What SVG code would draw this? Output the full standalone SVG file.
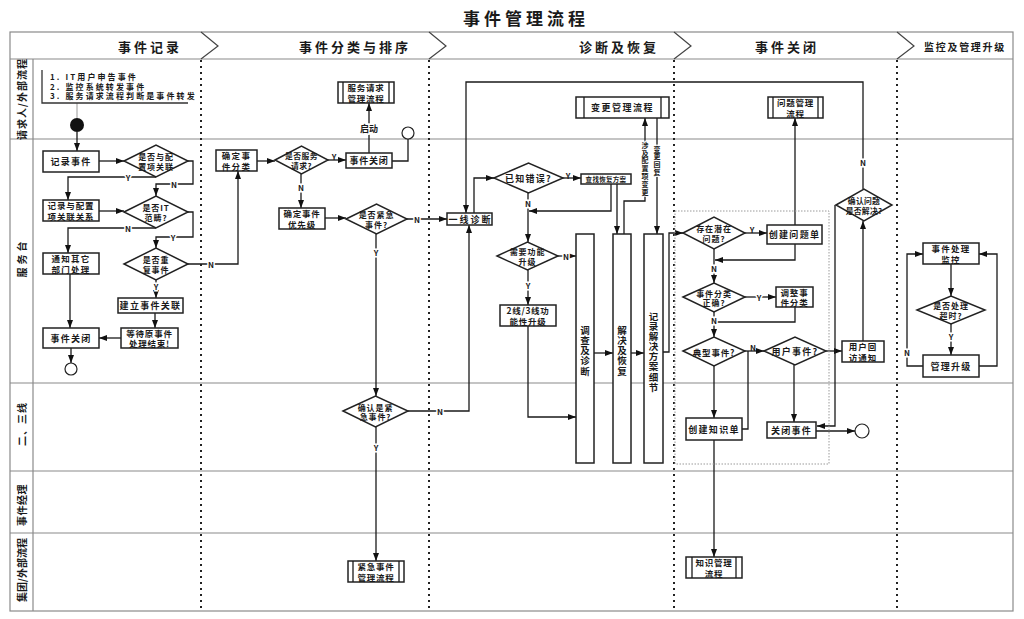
<svg xmlns="http://www.w3.org/2000/svg" width="1024" height="619" viewBox="0 0 1024 619">
<style>
text{font-family:"Noto Sans CJK SC","Liberation Sans",sans-serif;font-weight:bold;fill:#1a1a1a}
.t{font-size:8.5px;text-anchor:middle;dominant-baseline:central;letter-spacing:0.8px}
.td{font-size:8px;text-anchor:middle;dominant-baseline:central;letter-spacing:0.9px}
.t2{font-size:8.5px;text-anchor:middle;dominant-baseline:central;letter-spacing:1.3px}
.t9{font-size:9px;text-anchor:middle;dominant-baseline:central;letter-spacing:1.3px}
.lbl{font-size:8px;text-anchor:middle;dominant-baseline:central;stroke:#fff;stroke-width:3px;paint-order:stroke}
.vt{font-size:9.5px;text-anchor:middle;writing-mode:vertical-rl;letter-spacing:0.6px}
.vl{font-size:7px;text-anchor:middle;writing-mode:vertical-rl;letter-spacing:0.8px;stroke:#fff;stroke-width:2px;paint-order:stroke}
.box{fill:#fff;stroke:#222;stroke-width:1.5}
.ln{fill:none;stroke:#1a1a1a;stroke-width:1.3}
.ar{fill:none;stroke:#1a1a1a;stroke-width:1.3;marker-end:url(#ah)}
.frame{fill:none;stroke:#8a8a8a;stroke-width:1.2}
.sep{stroke:#222;stroke-width:2;stroke-dasharray:2 4}
.hd{font-size:13px;text-anchor:middle;dominant-baseline:central;letter-spacing:3px}
.lane{font-size:10px;text-anchor:middle;dominant-baseline:central}
</style>
<defs>
<marker id="ah" viewBox="0 0 8 6" refX="8" refY="3" markerWidth="8" markerHeight="6" markerUnits="userSpaceOnUse" orient="auto"><path d="M0,0 L8,3 L0,6 z" fill="#111"/></marker>
</defs>
<rect width="1024" height="619" fill="#fff"/>
<text x="526" y="17" style="font-size:17px;text-anchor:middle;dominant-baseline:central;letter-spacing:4px">事件管理流程</text>

<g id="frame">
<rect class="frame" x="10" y="32" width="1003" height="579"/>
<line class="frame" x1="10" y1="59" x2="1013" y2="59"/>
<line class="frame" x1="10" y1="139" x2="1013" y2="139"/>
<line class="frame" x1="10" y1="383" x2="1013" y2="383"/>
<line class="frame" x1="10" y1="471" x2="1013" y2="471"/>
<line class="frame" x1="10" y1="533" x2="1013" y2="533"/>
<line class="frame" x1="33" y1="59" x2="33" y2="611"/>
<polyline class="frame" points="201,32 218,46 201,59" style="stroke:#444"/>
<polyline class="frame" points="429,32 446,46 429,59" style="stroke:#444"/>
<polyline class="frame" points="674,32 691,46 674,59" style="stroke:#444"/>
<polyline class="frame" points="897,32 914,46 897,59" style="stroke:#444"/>
<line class="sep" x1="201" y1="60" x2="201" y2="611"/>
<line class="sep" x1="429" y1="60" x2="429" y2="611"/>
<line class="sep" x1="674" y1="60" x2="674" y2="611"/>
<line class="sep" x1="897" y1="60" x2="897" y2="611"/>
<text class="hd" x="150" y="46">事件记录</text>
<text class="hd" x="355" y="46">事件分类与排序</text>
<text class="hd" x="619" y="46">诊断及恢复</text>
<text class="hd" x="787" y="46">事件关闭</text>
<text class="hd" x="965" y="46" style="font-size:10px;letter-spacing:1.7px">监控及管理升级</text>
<text class="lane" transform="translate(21,99) rotate(-90)" style="letter-spacing:1px">请求人/外部流程</text>
<text class="lane" transform="translate(21,258) rotate(-90)" style="letter-spacing:3px">服务台</text>
<text class="lane" transform="translate(21,424) rotate(-90)" style="letter-spacing:1px">二、三线</text>
<text class="lane" transform="translate(21,505) rotate(-90)" style="letter-spacing:0.5px">事件经理</text>
<text class="lane" transform="translate(21,570) rotate(-90)">集团/外部流程</text>
</g>

<g id="connectors">
<path d="M77,103 V118" style="fill:none;stroke:#999;stroke-width:1"/>
<path class="ar" d="M77,132 V151"/>
<path class="ar" d="M99,161 H124"/>
<path class="ar" d="M156,177 H68 V200"/>
<path class="ar" d="M188,161 H193 V184 H156 V196"/>
<path class="ar" d="M99,211 H124"/>
<path class="ar" d="M156,228 H68 V253"/>
<path class="ar" d="M188,212 H193 V237 H156 V248"/>
<path class="ar" d="M188,264 H238 V171"/>
<path class="ar" d="M156,280 V298"/>
<path class="ar" d="M155,313 V328"/>
<path class="ar" d="M121,338 H99"/>
<path class="ar" d="M70,274 V328"/>
<path class="ar" d="M71,348 V363"/>
<path class="ar" d="M257,161 H275"/>
<path class="ar" d="M328,160 H346"/>
<path class="ar" d="M369,153 V103"/>
<path class="ln" d="M392,161 H408 V139"/>
<path class="ar" d="M301,174 V208"/>
<path class="ar" d="M325,218 H346"/>
<path class="ar" d="M407,219 H447"/>
<path class="ar" d="M376,234 V396"/>
<path class="ar" d="M408,411 H469 V225"/>
<path class="ar" d="M376,427 V561"/>
<path class="ar" d="M863,189 V82 H466 V213"/>
<path class="ar" d="M474,213 V178 H494"/>
<path class="ar" d="M563,178 H581"/>
<path class="ar" d="M528,193 V242"/>
<path class="ar" d="M611,184 V211 H529"/>
<path class="ar" d="M617,184 V234"/>
<path class="ar" d="M624,234 V201 H645 V118"/>
<path class="ar" d="M657,118 V234"/>
<path class="ar" d="M558,256 H576"/>
<path class="ar" d="M528,270 V305"/>
<path class="ar" d="M528,326 V417 H576"/>
<path class="ar" d="M594,353 H613"/>
<path class="ar" d="M631,353 H644"/>
<path class="ar" d="M663,352 H669 V233 H683"/>
<path class="ar" d="M745,233 H767"/>
<path class="ar" d="M795,225 V118"/>
<path class="ar" d="M795,244 V260 H715"/>
<path class="ar" d="M714,249 V283"/>
<path class="ar" d="M745,297 H776"/>
<path class="ln" d="M795,307 V322 H714"/>
<path class="ar" d="M714,312 V337"/>
<path class="ar" d="M745,351 H764"/>
<path class="ln" d="M742,429 H748 V351"/>
<path class="ar" d="M826,351 H842"/>
<path class="ar" d="M863,341 V221"/>
<path class="ar" d="M835,205 V426 H817"/>
<path class="ar" d="M714,366 V418"/>
<path class="ar" d="M794,365 V422"/>
<path class="ar" d="M816,431 H855"/>
<path class="ar" d="M714,440 V557"/>
<path class="ar" d="M951,264 V296"/>
<path class="ar" d="M951,324 V355"/>
<path class="ar" d="M923,366 H907 V254 H923"/>
<path class="ar" d="M979,366 H997 V254 H979"/>
<text class="lbl" x="128" y="177">Y</text>
<text class="lbl" x="174" y="184">N</text>
<text class="lbl" x="128" y="228">N</text>
<text class="lbl" x="173" y="237">Y</text>
<text class="lbl" x="211" y="264">N</text>
<text class="lbl" x="156" y="286">Y</text>
<text class="lbl" x="334" y="156" style="stroke-width:0">Y</text>
<text class="lbl" x="369" y="128" style="font-size:9px">启动</text>
<text class="lbl" x="301" y="187">N</text>
<text class="lbl" x="417" y="219">N</text>
<text class="lbl" x="376" y="252">Y</text>
<text class="lbl" x="440" y="411">N</text>
<text class="lbl" x="376" y="447">Y</text>
<text class="lbl" x="863" y="162">N</text>
<text class="lbl" x="568" y="175" style="stroke-width:0">Y</text>
<text class="lbl" x="528" y="203">N</text>
<text class="lbl" x="566" y="256">N</text>
<text class="lbl" x="528" y="285">Y</text>
<text class="lbl" x="752" y="229" style="stroke-width:0">Y</text>
<text class="lbl" x="714" y="268">N</text>
<text class="lbl" x="759" y="297">Y</text>
<text class="lbl" x="714" y="320">N</text>
<text class="lbl" x="753" y="347" style="stroke-width:0">N</text>
<text class="lbl" x="951" y="336">Y</text>
<text class="lbl" x="907" y="352">N</text>
<text class="vl" x="645" y="169">涉及配置项变更</text>
<text class="vl" x="657" y="161">变更回复</text>
</g>

<g id="n-note">
<path d="M42,70 V103 H188" style="fill:none;stroke:#333;stroke-width:1.3"/>
<text style="font-size:8px;letter-spacing:2.1px"><tspan x="50" y="80">1. IT用户申告事件</tspan><tspan x="50" y="89.7">2. 监控系统转发事件</tspan><tspan x="50" y="99.4">3. 服务请求流程判断是事件转发</tspan></text>
</g>
<g id="n-start"><circle cx="77" cy="125" r="7" fill="#111"/></g>

<g id="n-jlsj"><rect class="box" x="43" y="151" width="56" height="21"/><text class="t9" x="71" y="161.5">记录事件</text></g>
<g id="n-d1"><polygon class="box" points="124,161 156,145 188,161 156,177"/><text class="td"><tspan x="156" y="156.1">是否与配</tspan><tspan x="156" y="165.9">置项关联</tspan></text></g>
<g id="n-jlpz"><rect class="box" x="43" y="200" width="56" height="21"/><text class="t2" style="letter-spacing:0.9px"><tspan x="71" y="205.25">记录与配置</tspan><tspan x="71" y="215.75">项关联关系</tspan></text></g>
<g id="n-d2"><polygon class="box" points="124,212 156,196 188,212 156,228"/><text class="td"><tspan x="156" y="207.1">是否IT</tspan><tspan x="156" y="216.9">范畴?</tspan></text></g>
<g id="n-tz"><rect class="box" x="43" y="253" width="56" height="21"/><text class="t2"><tspan x="71" y="258.25">通知其它</tspan><tspan x="71" y="268.75">部门处理</tspan></text></g>
<g id="n-d3"><polygon class="box" points="124,264 156,248 188,264 156,280"/><text class="td"><tspan x="156" y="259.1">是否重</tspan><tspan x="156" y="268.9">复事件</tspan></text></g>
<g id="n-jlgl"><rect class="box" x="118" y="298" width="65" height="15"/><text class="t9" x="150.5" y="305.5">建立事件关联</text></g>
<g id="n-dd"><rect class="box" x="121" y="328" width="57" height="20"/><text class="t2" style="letter-spacing:0.8px"><tspan x="149.5" y="332.75">等待原事件</tspan><tspan x="149.5" y="343.25">处理结束!</tspan></text></g>
<g id="n-gb1"><rect class="box" x="43" y="328" width="56" height="20"/><text class="t9" x="71" y="338">事件关闭</text></g>
<g id="n-end1"><circle cx="71" cy="369" r="6" fill="#fff" stroke="#222" stroke-width="1.2"/></g>

<g id="n-qdfl"><rect class="box" x="216" y="150" width="41" height="21"/><text class="t2"><tspan x="236.5" y="155.25">确定事</tspan><tspan x="236.5" y="165.75">件分类</tspan></text></g>
<g id="n-d4"><polygon class="box" points="275,160 301.5,146 328,160 301.5,174"/><text class="td" style="font-size:7.8px;letter-spacing:0.5px"><tspan x="301.5" y="155.1">是否服务</tspan><tspan x="301.5" y="164.9">请求?</tspan></text></g>
<g id="n-gb2"><rect class="box" x="346" y="153" width="46" height="15"/><text class="t9" style="letter-spacing:0.8px" x="369" y="160.5">事件关闭</text></g>
<g id="n-fwqq"><rect class="box" x="338" y="82" width="56" height="21"/><line class="ln" x1="343" y1="82" x2="343" y2="103"/><line class="ln" x1="389" y1="82" x2="389" y2="103"/><text class="t2" style="letter-spacing:0.8px"><tspan x="366" y="87.25">服务请求</tspan><tspan x="366" y="97.75">管理流程</tspan></text></g>
<g id="n-end2"><circle cx="408" cy="133" r="6" fill="#fff" stroke="#222" stroke-width="1.2"/></g>
<g id="n-yxj"><rect class="box" x="279" y="208" width="46" height="21"/><text class="t2" style="letter-spacing:0.8px"><tspan x="302" y="213.25">确定事件</tspan><tspan x="302" y="223.75">优先级</tspan></text></g>
<g id="n-d5"><polygon class="box" points="346,219 376.5,204 407,219 376.5,234"/><text class="td"><tspan x="376.5" y="214.1">是否紧急</tspan><tspan x="376.5" y="223.9">事件?</tspan></text></g>
<g id="n-d6"><polygon class="box" points="343,411 375.5,396 408,411 375.5,427"/><text class="td"><tspan x="375.5" y="406.6">确认是紧</tspan><tspan x="375.5" y="416.4">急事件?</tspan></text></g>
<g id="n-jjsj"><rect class="box" x="348" y="561" width="56" height="21"/><line class="ln" x1="353" y1="561" x2="353" y2="582"/><line class="ln" x1="399" y1="561" x2="399" y2="582"/><text class="t2" style="letter-spacing:0.8px"><tspan x="376" y="566.25">紧急事件</tspan><tspan x="376" y="576.75">管理流程</tspan></text></g>

<g id="n-yxzd"><rect class="box" x="447" y="213" width="45" height="12"/><text class="t9" style="letter-spacing:2px" x="470.5" y="219">一线诊断</text></g>
<g id="n-d7"><polygon class="box" points="494,178 528.5,163 563,178 528.5,193"/><text class="t9" x="528.5" y="178">已知错误?</text></g>
<g id="n-czhf"><rect class="box" x="581" y="174" width="50" height="10"/><text class="t" style="font-size:6.5px;letter-spacing:0.3px" x="606" y="179">查找恢复方案</text></g>
<g id="n-bggl"><rect class="box" x="576" y="97" width="93" height="21"/><line class="ln" x1="584" y1="97" x2="584" y2="118"/><line class="ln" x1="661" y1="97" x2="661" y2="118"/><text class="t9" style="letter-spacing:1.5px" x="622.5" y="107.5">变更管理流程</text></g>
<g id="n-d8"><polygon class="box" points="497,256 527.5,242 558,256 527.5,270"/><text class="td"><tspan x="527.5" y="251.1">需要功能</tspan><tspan x="527.5" y="260.9">升级</tspan></text></g>
<g id="n-sj"><rect class="box" x="500" y="305" width="56" height="21"/><text class="t2" style="letter-spacing:0.7px"><tspan x="528" y="310.25">2线/3线功</tspan><tspan x="528" y="320.75">能性升级</tspan></text></g>
<g id="n-dc"><rect class="box" x="576" y="234" width="18" height="229"/><text class="vt" x="585" y="351">调查及诊断</text></g>
<g id="n-jj"><rect class="box" x="613" y="234" width="18" height="229"/><text class="vt" x="622" y="351">解决及恢复</text></g>
<g id="n-jl"><rect class="box" x="644" y="234" width="19" height="229"/><text class="vt" x="653.5" y="352">记录解决方案细节</text></g>

<g id="n-dotbox"><rect x="675" y="211" width="154" height="253" fill="none" stroke="#9a9a9a" stroke-width="1" stroke-dasharray="1.5 1.5"/></g>
<g id="n-d9"><polygon class="box" points="683,233 714,217 745,233 714,249"/><text class="td"><tspan x="714" y="228.1">存在潜在</tspan><tspan x="714" y="237.9">问题?</tspan></text></g>
<g id="n-cjwt"><rect class="box" x="767" y="225" width="55" height="19"/><text class="t9" x="794.5" y="234.5">创建问题单</text></g>
<g id="n-wtgl"><rect class="box" x="768" y="97" width="55" height="21"/><line class="ln" x1="773" y1="97" x2="773" y2="118"/><line class="ln" x1="818" y1="97" x2="818" y2="118"/><text class="t2" style="letter-spacing:0.8px"><tspan x="795.5" y="102.25">问题管理</tspan><tspan x="795.5" y="112.75">流程</tspan></text></g>
<g id="n-d10"><polygon class="box" points="683,297 714,283 745,297 714,312"/><text class="td"><tspan x="714" y="292.6">事件分类</tspan><tspan x="714" y="302.4">正确?</tspan></text></g>
<g id="n-tz2"><rect class="box" x="776" y="287" width="37" height="20"/><text class="t2" style="letter-spacing:0.8px"><tspan x="794.5" y="291.75">调整事</tspan><tspan x="794.5" y="302.25">件分类</tspan></text></g>
<g id="n-d11"><polygon class="box" points="683,351 714,337 745,351 714,366"/><text class="t" x="714" y="351.5">典型事件?</text></g>
<g id="n-d12"><polygon class="box" points="764,351 795,337 826,351 795,365"/><text class="t9" x="795" y="351">用户事件?</text></g>
<g id="n-hf"><rect class="box" x="842" y="341" width="42" height="21"/><text class="t2" style="letter-spacing:1px"><tspan x="863" y="346.25">用户回</tspan><tspan x="863" y="356.75">访通知</tspan></text></g>
<g id="n-d13"><polygon class="box" points="836,205 864,189 892,205 864,221"/><text class="td" style="font-size:7.8px;letter-spacing:0.3px"><tspan x="864" y="200.1">确认问题</tspan><tspan x="864" y="209.9">是否解决?</tspan></text></g>
<g id="n-zsd"><rect class="box" x="686" y="418" width="56" height="22"/><text class="t9" x="714" y="429">创建知识单</text></g>
<g id="n-gbsj"><rect class="box" x="767" y="422" width="49" height="16"/><text class="t9" x="791.5" y="430">关闭事件</text></g>
<g id="n-end3"><circle cx="862" cy="431" r="7" fill="#fff" stroke="#222" stroke-width="1.2"/></g>
<g id="n-zsgl"><rect class="box" x="686" y="557" width="56" height="21"/><line class="ln" x1="692" y1="557" x2="692" y2="578"/><line class="ln" x1="736" y1="557" x2="736" y2="578"/><text class="t2" style="letter-spacing:0.8px"><tspan x="714" y="562.25">知识管理</tspan><tspan x="714" y="572.75">流程</tspan></text></g>

<g id="n-jk"><rect class="box" x="923" y="243" width="56" height="21"/><text class="t2"><tspan x="951" y="248.25">事件处理</tspan><tspan x="951" y="258.75">监控</tspan></text></g>
<g id="n-d14"><polygon class="box" points="917,310 951,296 985,310 951,324"/><text class="td"><tspan x="951" y="305.1">是否处理</tspan><tspan x="951" y="314.9">超时?</tspan></text></g>
<g id="n-glsj"><rect class="box" x="923" y="355" width="56" height="22"/><text class="t9" x="951" y="366">管理升级</text></g>
</svg>
